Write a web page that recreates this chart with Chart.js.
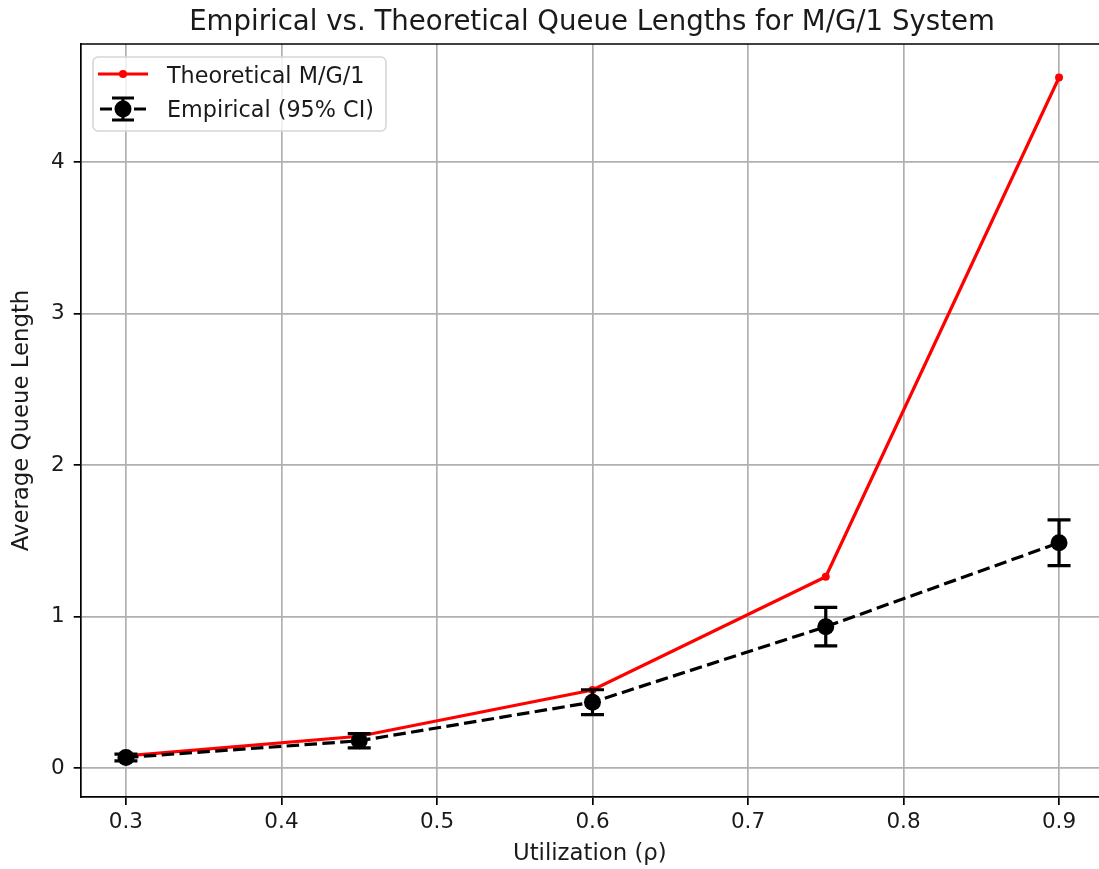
<!DOCTYPE html>
<html>
<head>
<meta charset="utf-8">
<script src="https://cdn.jsdelivr.net/npm/chart.js@4/dist/chart.umd.min.js"></script>
<style>
  html, body { margin: 0; padding: 0; background: #fff; overflow: hidden; }
  canvas { display: block; }
</style>
</head>
<body>
<canvas id="chart" width="1099" height="869"></canvas>
<script>
// ---- data ----
const utilization = [0.3, 0.45, 0.6, 0.75, 0.9];
const theoretical = [0.08, 0.21, 0.515, 1.263, 4.558];
const empirical = [0.07, 0.18, 0.435, 0.933, 1.487];
const ciHalfWidth = [0.022, 0.047, 0.082, 0.127, 0.151];

const xTicks = [0.3, 0.4, 0.5, 0.6, 0.7, 0.8, 0.9];
const yTicks = [0, 1, 2, 3, 4];

const chartTitle = "Empirical vs. Theoretical Queue Lengths for M/G/1 System";
const xLabel = "Utilization (ρ)";
const yLabel = "Average Queue Length";
const legendLabels = ["Theoretical M/G/1", "Empirical (95% CI)"];

const FONT = "'DejaVu Sans', sans-serif";
const TEXT = "#1a1a1a";
const GRID = "#b0b0b0";

// error bars, drawn under the empirical markers
const errorBars = {
  id: "errorBars",
  beforeDatasetDraw(chart, args) {
    if (args.index !== 0) return;
    const { ctx, scales: { x, y } } = chart;
    ctx.save();
    ctx.strokeStyle = "#000";
    ctx.lineWidth = 3.2;
    utilization.forEach((u, i) => {
      const px = x.getPixelForValue(u);
      const top = y.getPixelForValue(empirical[i] + ciHalfWidth[i]);
      const bot = y.getPixelForValue(empirical[i] - ciHalfWidth[i]);
      ctx.beginPath();
      ctx.moveTo(px, top); ctx.lineTo(px, bot);
      ctx.moveTo(px - 11.5, top); ctx.lineTo(px + 11.5, top);
      ctx.moveTo(px - 11.5, bot); ctx.lineTo(px + 11.5, bot);
      ctx.stroke();
    });
    ctx.restore();
  }
};

// title, top spine and legend box
const decorations = {
  id: "decorations",
  afterDraw(chart) {
    const { ctx, chartArea: a } = chart;
    ctx.save();
    // top spine
    ctx.strokeStyle = "#000";
    ctx.lineWidth = 1.7;
    ctx.beginPath();
    ctx.moveTo(a.left, a.top); ctx.lineTo(a.right, a.top);
    ctx.stroke();

    // title centred over the full (cropped) axes
    ctx.fillStyle = TEXT;
    ctx.font = "27.6px " + FONT;
    ctx.textAlign = "center";
    ctx.textBaseline = "alphabetic";
    ctx.fillText(chartTitle, 592, 30);

    // legend box
    const bx = 93, by = 57, bw = 293, bh = 74, r = 5;
    ctx.beginPath();
    ctx.moveTo(bx + r, by);
    ctx.arcTo(bx + bw, by, bx + bw, by + bh, r);
    ctx.arcTo(bx + bw, by + bh, bx, by + bh, r);
    ctx.arcTo(bx, by + bh, bx, by, r);
    ctx.arcTo(bx, by, bx + bw, by, r);
    ctx.closePath();
    ctx.fillStyle = "rgba(255,255,255,0.8)";
    ctx.fill();
    ctx.strokeStyle = "#d6d6d6";
    ctx.lineWidth = 1.6;
    ctx.stroke();

    // row 1: red line with dot
    ctx.strokeStyle = "red";
    ctx.lineWidth = 3.2;
    ctx.beginPath();
    ctx.moveTo(98, 74); ctx.lineTo(148, 74);
    ctx.stroke();
    ctx.fillStyle = "red";
    ctx.beginPath(); ctx.arc(123, 74, 4, 0, Math.PI * 2); ctx.fill();

    // row 2: dashed black with error bar and marker
    ctx.strokeStyle = "#000";
    ctx.lineWidth = 3.2;
    ctx.beginPath();
    ctx.moveTo(100, 109); ctx.lineTo(112, 109);
    ctx.moveTo(134, 109); ctx.lineTo(146, 109);
    ctx.moveTo(123, 98); ctx.lineTo(123, 120);
    ctx.moveTo(112, 98); ctx.lineTo(134, 98);
    ctx.moveTo(112, 120); ctx.lineTo(134, 120);
    ctx.stroke();
    ctx.fillStyle = "#000";
    ctx.beginPath(); ctx.arc(123, 109, 8.5, 0, Math.PI * 2); ctx.fill();

    // legend text
    ctx.fillStyle = TEXT;
    ctx.font = "22.3px " + FONT;
    ctx.textAlign = "left";
    ctx.fillText(legendLabels[0], 167, 83);
    ctx.fillText(legendLabels[1], 167, 117);
    ctx.restore();
  }
};

const tickFont = { family: FONT, size: 21.5 };
const labelFont = { family: FONT, size: 22.8 };

new Chart(document.getElementById("chart"), {
  type: "line",
  data: {
    datasets: [
      {
        label: legendLabels[1],
        data: utilization.map((u, i) => ({ x: u, y: empirical[i] })),
        borderColor: "#000",
        borderWidth: 3.2,
        borderDash: [12.5, 5.4],
        pointRadius: 8.5,
        pointBackgroundColor: "#000",
        pointBorderWidth: 0,
        tension: 0
      },
      {
        label: legendLabels[0],
        data: utilization.map((u, i) => ({ x: u, y: theoretical[i] })),
        borderColor: "red",
        borderWidth: 3.2,
        pointRadius: 4,
        pointBackgroundColor: "red",
        pointBorderWidth: 0,
        tension: 0
      }
    ]
  },
  options: {
    responsive: false,
    animation: false,
    layout: { autoPadding: false, padding: { top: 44, right: 0, bottom: 0, left: 0 } },
    plugins: { legend: { display: false }, tooltip: { enabled: false } },
    scales: {
      x: {
        type: "linear",
        min: 0.2709,
        max: 0.9257,
        afterBuildTicks: s => { s.ticks = xTicks.map(v => ({ value: v })); },
        afterFit: s => { s.height = 72; s.paddingLeft = 0; s.paddingRight = 0; },
        ticks: { font: tickFont, color: TEXT, padding: 5, maxRotation: 0, callback: v => v.toFixed(1) },
        grid: { color: GRID, lineWidth: 1.7, tickColor: "#000", tickLength: 8, tickWidth: 1.7 },
        border: { color: "#000", width: 1.7 },
        title: { display: true, text: xLabel, font: labelFont, color: TEXT, padding: { top: 0, bottom: 1 } }
      },
      y: {
        type: "linear",
        min: -0.191,
        max: 4.779,
        afterBuildTicks: s => { s.ticks = yTicks.map(v => ({ value: v })); },
        afterFit: s => { s.width = 80.7; s.paddingTop = 0; s.paddingBottom = 0; },
        ticks: { font: tickFont, color: TEXT, padding: 9, callback: v => String(v) },
        grid: { color: GRID, lineWidth: 1.7, tickColor: "#000", tickLength: 7, tickWidth: 1.7 },
        border: { color: "#000", width: 1.7 },
        title: { display: true, text: yLabel, font: labelFont, color: TEXT, padding: { top: 8, bottom: 0 } }
      }
    }
  },
  plugins: [errorBars, decorations]
});
</script>
</body>
</html>
